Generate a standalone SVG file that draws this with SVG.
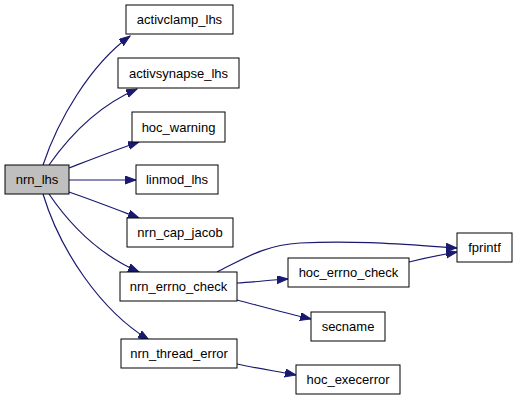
<svg xmlns="http://www.w3.org/2000/svg" width="517" height="400" viewBox="0 0 517 400">
<style>
.n rect{fill:#ffffff;stroke:#000000;stroke-width:1}
.n.root rect{fill:#bfbfbf}
.n text{font-family:"Liberation Sans",Arial,sans-serif;font-size:13px;text-anchor:middle;fill:#000000}
.e path{fill:none;stroke:#191970;stroke-width:1.2;marker-end:url(#ah)}
</style>
<defs>
<marker id="ah" markerUnits="userSpaceOnUse" markerWidth="12" markerHeight="10" refX="11" refY="4" orient="auto">
<path d="M0,0 L11,4 L0,8 z" fill="#191970" stroke="#191970" stroke-width="1"/>
</marker>
</defs>
<rect width="517" height="400" fill="#ffffff"/>
<g id="edges" class="e">
<path d="M43,165 C58,120 90,65 130,36"/>
<path d="M49,165 C70,135 100,105 137,89"/>
<path d="M69,168 C95,158 118,149 139,142"/>
<path d="M69,180 L136,180"/>
<path d="M69,192 C95,201 118,210 139,218"/>
<path d="M49,194 C70,225 100,255 139,272"/>
<path d="M43,194 C60,250 100,310 149,340"/>
<path d="M217,272 C245,258 265,245 300,243 C360,240 410,245 457,248"/>
<path d="M237,283 C255,282 270,280 288,279"/>
<path d="M409,262 C425,258 440,255 457,252"/>
<path d="M237,300 C260,306 285,313 311,319"/>
<path d="M237,364 C255,368 275,371 296,375"/>
</g>
<g id="nrn_lhs" class="n root"><rect x="5" y="165" width="64" height="29"/><text x="37" y="184">nrn_lhs</text></g>
<g id="activclamp_lhs" class="n"><rect x="126" y="5" width="107" height="29"/><text x="179.5" y="24">activclamp_lhs</text></g>
<g id="activsynapse_lhs" class="n"><rect x="118" y="58" width="121" height="30"/><text x="178.5" y="77.5">activsynapse_lhs</text></g>
<g id="hoc_warning" class="n"><rect x="132" y="112" width="93" height="30"/><text x="178.5" y="131.5">hoc_warning</text></g>
<g id="linmod_lhs" class="n"><rect x="136" y="165" width="82" height="29"/><text x="177" y="184">linmod_lhs</text></g>
<g id="nrn_cap_jacob" class="n"><rect x="127" y="218" width="106" height="29"/><text x="180" y="237">nrn_cap_jacob</text></g>
<g id="nrn_errno_check" class="n"><rect x="120" y="272" width="117" height="29"/><text x="178.5" y="291">nrn_errno_check</text></g>
<g id="nrn_thread_error" class="n"><rect x="121" y="339" width="116" height="29"/><text x="179" y="358">nrn_thread_error</text></g>
<g id="fprintf" class="n"><rect x="457" y="233" width="55" height="29"/><text x="484.5" y="252">fprintf</text></g>
<g id="hoc_errno_check" class="n"><rect x="288" y="258" width="121" height="29"/><text x="348.5" y="277">hoc_errno_check</text></g>
<g id="secname" class="n"><rect x="311" y="312" width="74" height="29"/><text x="348" y="331">secname</text></g>
<g id="hoc_execerror" class="n"><rect x="296" y="365" width="104" height="29"/><text x="348" y="384">hoc_execerror</text></g>
</svg>
